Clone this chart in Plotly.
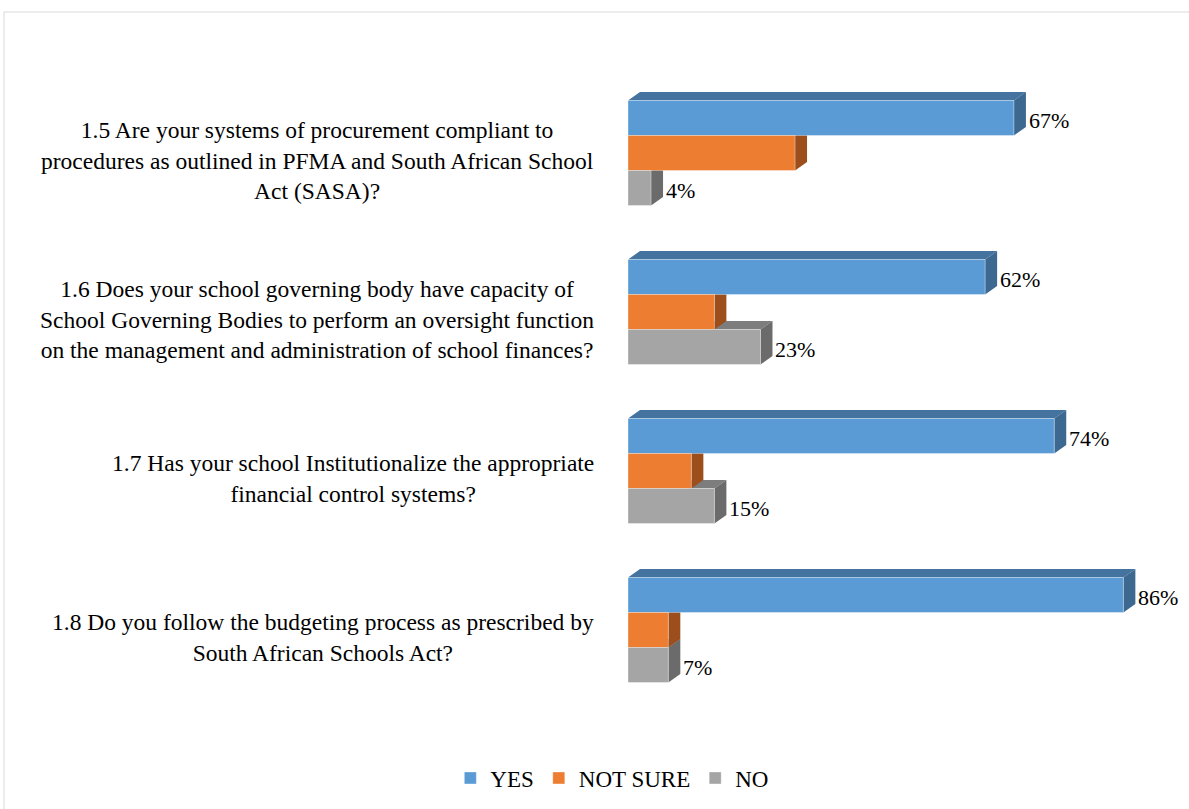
import plotly.graph_objects as go

# Survey questions (top to bottom)
questions = [
    "1.5 Are your systems of procurement compliant to<br>procedures as outlined in PFMA and South African School<br>Act (SASA)?",
    "1.6 Does your school governing body have capacity of<br>School Governing Bodies to perform an oversight function<br>on the management and administration of school finances?",
    "1.7 Has your school Institutionalize the appropriate<br>financial control systems?",
    "1.8 Do you follow the budgeting process as prescribed by<br>South African Schools Act?",
]
yes_pct = [67, 62, 74, 86]
not_sure_pct = [29, 15, 11, 7]
no_pct = [4, 23, 15, 7]

series = [
    # name, values, front colour, top colour, side colour, show label
    ("YES", yes_pct, "#5B9BD5", "#44739F", "#3D6890", True),
    ("NOT SURE", not_sure_pct, "#ED7D31", "#B55E22", "#9C4F1C", False),
    ("NO", no_pct, "#A5A5A5", "#7D7D7D", "#6B6B6B", True),
]

FONT = "Liberation Serif, Times New Roman, serif"
W, H = 1189, 809
M_L, M_R, M_T, M_B = 628, 0, 40, 64
PX_PER_PCT = 5.76
plot_w = W - M_L - M_R
plot_h = H - M_T - M_B
x_max = plot_w / PX_PER_PCT

cat_px = 159.0            # distance between question groups
y_top = -(153 - M_T) / cat_px
y_bot = y_top + plot_h / cat_px
bar_w = 35.0 / cat_px     # thickness of one bar
depth_dx = 12 / PX_PER_PCT
depth_dy = 8.5 / cat_px

cats = list(range(len(questions)))
n_series = len(series)

fig = go.Figure()
shapes = []
annotations = []

# offsets of each series inside a group (YES on top)
offsets = [(k - (n_series - 1) / 2) * bar_w for k in range(n_series)]

for k, (name, vals, front, top, side, show_lbl) in enumerate(series):
    ys = [c + offsets[k] for c in cats]
    fig.add_trace(go.Bar(
        name=name, x=vals, y=ys, orientation="h", width=bar_w,
        marker=dict(color=front, line=dict(color="rgba(255,255,255,0.6)", width=0.6)),
        hoverinfo="x+name",
    ))

# 3-D faces (top and side) behind the bar fronts, drawn back row first
for k in reversed(range(n_series)):
    name, vals, front, top, side, show_lbl = series[k]
    for c, v in zip(cats, vals):
        yc = c + offsets[k]
        y_hi = yc - bar_w / 2   # upper edge (axis reversed)
        y_lo = yc + bar_w / 2
        top_path = (f"M 0 {y_hi} L {depth_dx} {y_hi - depth_dy} "
                    f"L {v + depth_dx} {y_hi - depth_dy} L {v} {y_hi} Z")
        side_path = (f"M {v} {y_hi} L {v + depth_dx} {y_hi - depth_dy} "
                     f"L {v + depth_dx} {y_lo - depth_dy} L {v} {y_lo} Z")
        for p, col in ((top_path, top), (side_path, side)):
            shapes.append(dict(type="path", path=p, xref="x", yref="y",
                               fillcolor=col, line=dict(width=0), layer="below"))
        if show_lbl:
            annotations.append(dict(
                x=v, y=yc, xref="x", yref="y", text=f"{v}%", showarrow=False,
                xanchor="left", xshift=13, yshift=-2,
                font=dict(family=FONT, size=22, color="#000000"),
            ))

# question texts to the left of the bars
for c, q in zip(cats, questions):
    annotations.append(dict(
        x=(596 - M_L) / plot_w, y=c, xref="paper", yref="y", text=q, showarrow=False,
        xanchor="right", align="center", yshift=-7,
        font=dict(family=FONT, size=23.5, color="#000000"),
    ))

# chart border
shapes.append(dict(type="rect", xref="paper", yref="paper",
                   x0=(4 - M_L) / plot_w, x1=1.02,
                   y0=-0.2, y1=(H - M_B - 12) / plot_h,
                   line=dict(color="#D9D9D9", width=1), fillcolor="rgba(0,0,0,0)",
                   layer="below"))

fig.update_layout(
    width=W, height=H,
    margin=dict(l=M_L, r=M_R, t=M_T, b=M_B),
    paper_bgcolor="white", plot_bgcolor="white",
    barmode="overlay",
    font=dict(family=FONT, size=22, color="#000000"),
    xaxis=dict(range=[0, x_max], visible=False, fixedrange=True),
    yaxis=dict(range=[y_bot, y_top], visible=False, fixedrange=True),
    shapes=shapes,
    annotations=annotations,
    showlegend=True,
    legend=dict(orientation="h", x=0.515, xref="container", xanchor="center",
                y=31 / H, yref="container", yanchor="middle",
                font=dict(family=FONT, size=23), itemwidth=30,
                traceorder="normal"),
)

fig.write_html("out.html")
